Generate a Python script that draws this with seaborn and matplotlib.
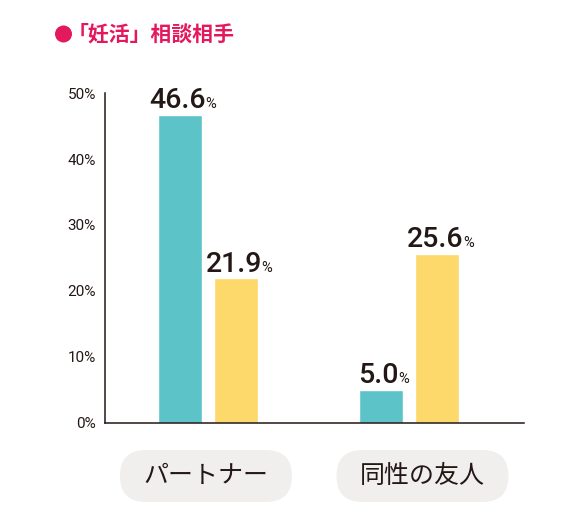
import matplotlib
matplotlib.use("Agg")
import matplotlib.pyplot as plt
import seaborn as sns
import pandas as pd
from matplotlib.patches import FancyBboxPatch, Circle
from matplotlib.transforms import IdentityTransform

# ---- data ----
categories = ["パートナー", "同性の友人"]
series_names = ["系列A", "系列B"]
values_a = [46.6, 5.0]
values_b = [21.9, 25.6]
y_ticks = [0, 10, 20, 30, 40, 50]
y_tick_labels = ["0%", "10%", "20%", "30%", "40%", "50%"]
title = "「妊活」相談相手"

df = pd.DataFrame({
    "category": categories * 2,
    "series": [series_names[0]] * len(categories) + [series_names[1]] * len(categories),
    "value": values_a + values_b,
})

sns.set_theme(style="white")
plt.rcParams["font.family"] = ["Roboto", "Noto Sans CJK JP", "DejaVu Sans"]

W, H = 582, 530
DPI = 100
fig = plt.figure(figsize=(W / DPI, H / DPI), dpi=DPI)
fig.patch.set_facecolor("white")

ax_left, ax_right, ax_top, ax_bottom = 105, 524, 93, 423
ax = fig.add_axes([ax_left / W, (H - ax_bottom) / H,
                   (ax_right - ax_left) / W, (ax_bottom - ax_top) / H])

TEAL = "#5CC4C9"
YELLOW = "#FDD86B"
INK = "#231815"
PINK = "#E3185E"

sns.barplot(data=df, x="category", y="value", hue="series",
            palette=[TEAL, YELLOW], width=0.56, gap=0.22, saturation=1,
            legend=False, ax=ax, errorbar=None)

ax.set_xlim(-0.512, 1.572)
ax.set_ylim(0, 50)
ax.set_xlabel("")
ax.set_ylabel("")
ax.set_yticks(y_ticks)
ax.set_yticklabels(y_tick_labels)
ax.set_xticks(range(len(categories)))
ax.set_xticklabels([])
ax.tick_params(axis="x", length=0)
ax.tick_params(axis="y", direction="in", length=5, width=1.1, color=INK,
               pad=6.5, labelsize=11, labelcolor=INK)
for s in ["top", "right"]:
    ax.spines[s].set_visible(False)
for s in ["left", "bottom"]:
    ax.spines[s].set_color(INK)
    ax.spines[s].set_linewidth(1.1)
ax.set_facecolor("white")

# title with bullet dot
cjk = ["Noto Sans CJK JP", "DejaVu Sans"]
fig.add_artist(Circle((63.5, H - 34), 8.5, transform=IdentityTransform(),
                      facecolor=PINK, edgecolor="none"))
fig.text(235 / W, 1 - 34 / H, title, ha="right", va="center", fontsize=15,
         fontweight="bold", color=PINK, family=cjk)

# value labels
labels = []
for cont in ax.containers:
    for bar in cont:
        x = bar.get_x() + bar.get_width() / 2
        h = bar.get_height()
        t = ax.annotate(f"{h:.1f}", (x, h), xytext=(-1.5, 5),
                        textcoords="offset points", ha="center", va="baseline",
                        fontsize=20.5, fontweight="medium", color=INK)
        labels.append((t, x, h))

fig.canvas.draw()
renderer = fig.canvas.get_renderer()
for t, x, h in labels:
    bb = t.get_window_extent(renderer)
    base_y = ax.transData.transform((x, h))[1] + 5 * DPI / 72
    fig.text((bb.x1 - 0.5) / W, base_y / H, "%", ha="left", va="baseline",
             fontsize=10.5, color=INK)

# category pills
pill_dx = [-2, 13.5]
pill_w, pill_h = 172, 52
pill_cy = H - 476
for i, cat in enumerate(categories):
    cx = ax.transData.transform((i, 0))[0] + pill_dx[i]
    patch = FancyBboxPatch((cx - pill_w / 2, pill_cy - pill_h / 2), pill_w, pill_h,
                           boxstyle=f"round,pad=0,rounding_size={pill_h/2}",
                           transform=IdentityTransform(), facecolor="#F1EFED",
                           edgecolor="none")
    fig.add_artist(patch)
    fig.text(cx / W, pill_cy / H, cat, ha="center", va="center", fontsize=18,
             color=INK, family=cjk)

fig.savefig("out.png", dpi=DPI, facecolor="white")
